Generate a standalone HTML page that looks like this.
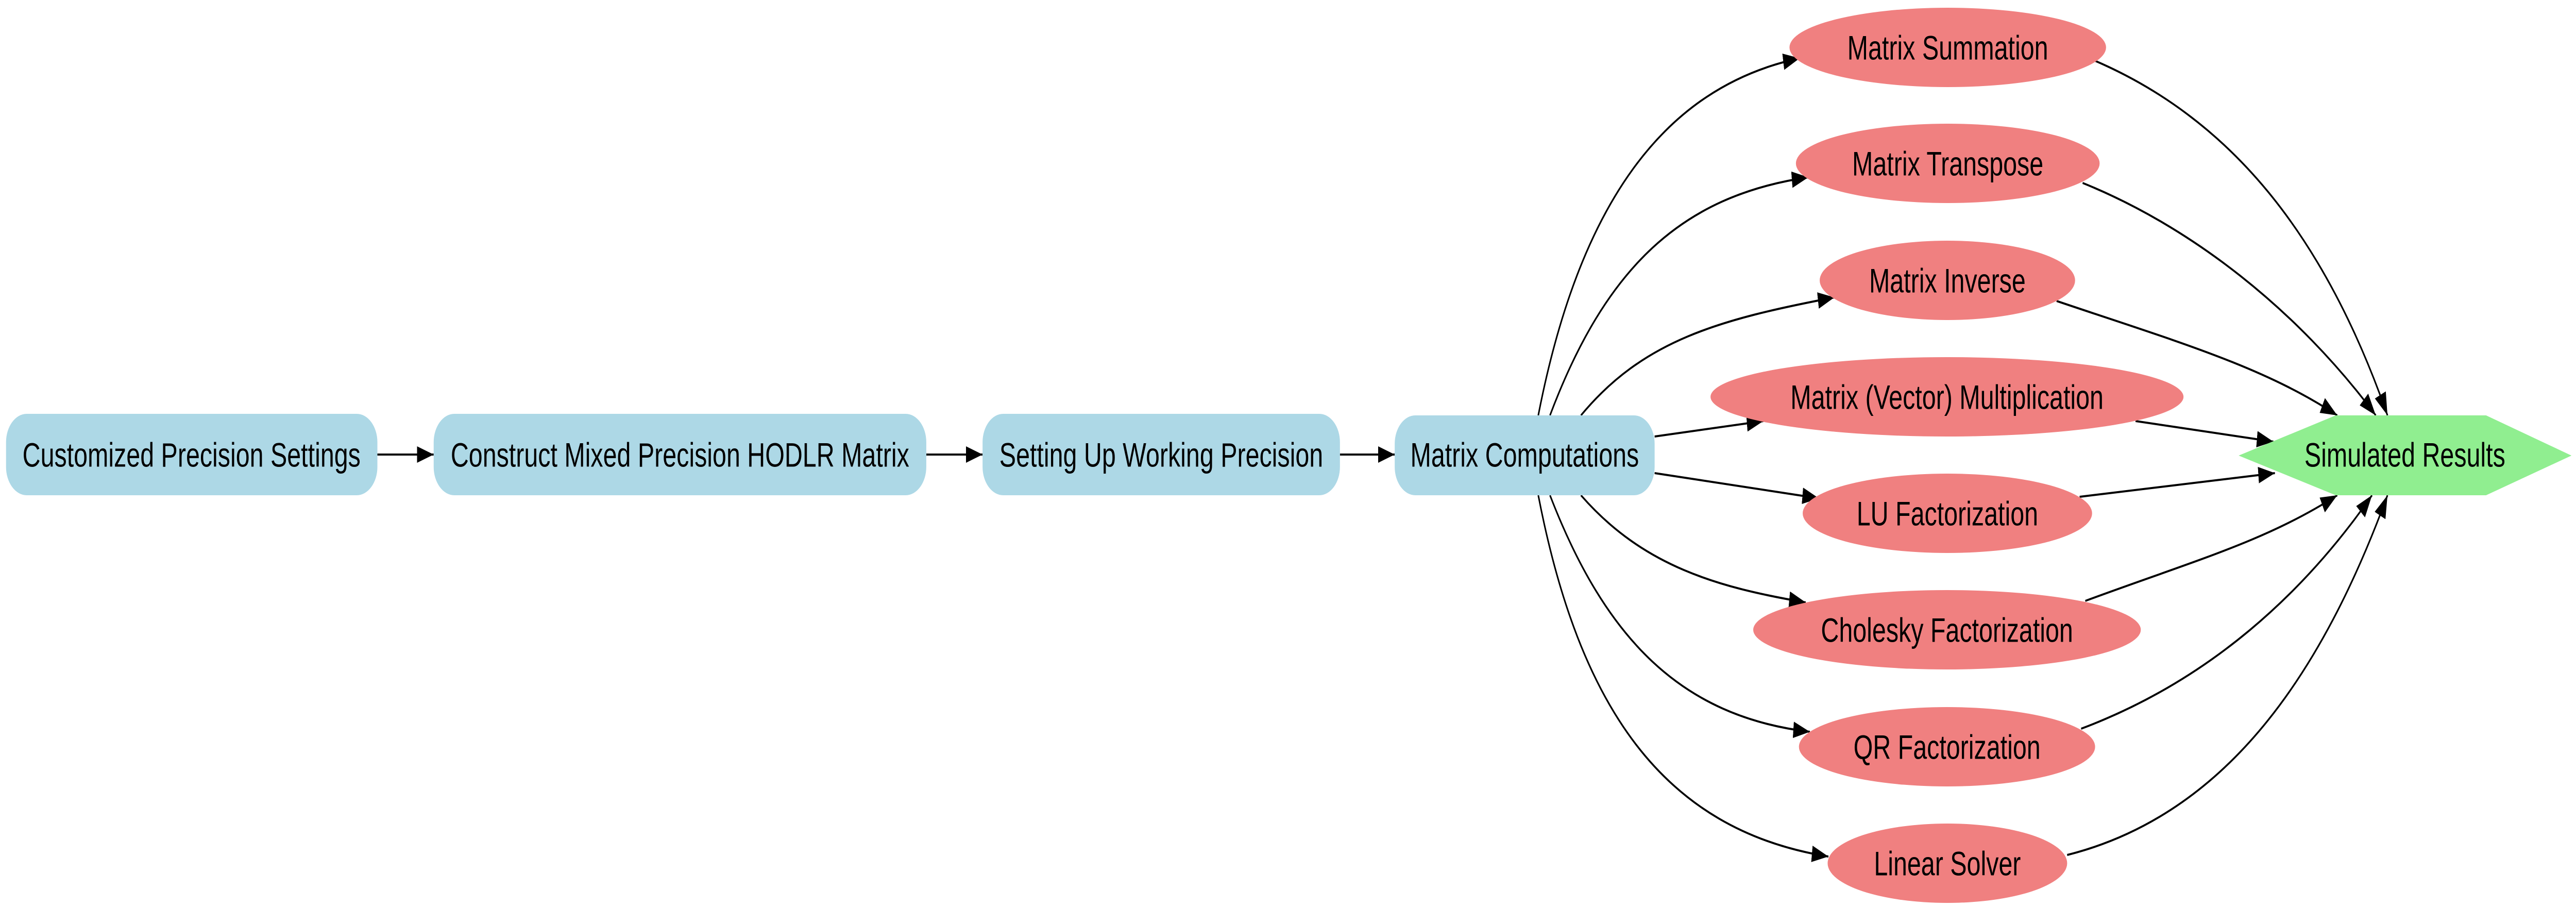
<!DOCTYPE html>
<html><head><meta charset="utf-8"><style>
html,body{margin:0;padding:0;background:#fff;width:100%;height:100%;overflow:hidden;}
svg{display:block;position:fixed;left:0;top:0;width:100vw;height:100vh;}
text{font-family:"Liberation Sans",Arial,sans-serif;font-size:66px;fill:#000;}
</style></head><body>
<svg viewBox="0 0 6819 1758" preserveAspectRatio="none" xmlns="http://www.w3.org/2000/svg">
<defs>
<marker id="a" markerUnits="userSpaceOnUse" markerWidth="46" markerHeight="32" refX="44" refY="16" orient="auto">
<path d="M0,0 L44,16 L0,32 z" fill="#000"/>
</marker>
</defs>
<g fill="none" stroke="#000" stroke-width="4" marker-end="url(#a)">
<path d="M999,882 L1148,882"/>
<path d="M2452,882 L2601,882"/>
<path d="M3547,882 L3692,882"/>
<path d="M4072,806 C4180,400 4400,170 4764,113"/>
<path d="M4103,806 C4250,520 4450,380 4787,344"/>
<path d="M4185,806 C4350,660 4550,620 4856,577"/>
<path d="M4380,847 L4668,817"/>
<path d="M4380,918 L4815,967"/>
<path d="M4185,961 C4350,1100 4550,1140 4780,1169"/>
<path d="M4103,961 C4250,1240 4450,1390 4791,1420"/>
<path d="M4072,961 C4180,1370 4400,1610 4840,1662"/>
<path d="M5546,118 C5900,230 6150,450 6320,806"/>
<path d="M5513,355 C5800,440 6080,600 6289,806"/>
<path d="M5444,584 C5750,660 5990,710 6187,806"/>
<path d="M5653,817 L6018,857"/>
<path d="M5505,964 L6022,918"/>
<path d="M5520,1166 C5800,1090 6000,1050 6187,961"/>
<path d="M5509,1414 C5850,1320 6100,1150 6279,961"/>
<path d="M5472,1659 C5900,1580 6150,1300 6320,961"/>
</g>
<g fill="#add8e6">
<rect x="16" y="803" width="983" height="158" rx="55"/>
<rect x="1148" y="803" width="1304" height="158" rx="55"/>
<rect x="2601" y="803" width="946" height="158" rx="55"/>
<rect x="3692" y="806" width="688" height="155" rx="55"/>
</g>
<polygon points="5926,884 6183,806 6581,806 6807,884 6581,961 6183,961" fill="#90ee90"/>
<g fill="#f08080">
<ellipse cx="5156" cy="92" rx="419" ry="77"/>
<ellipse cx="5156" cy="317" rx="402" ry="77"/>
<ellipse cx="5155" cy="544" rx="338" ry="77"/>
<ellipse cx="5154" cy="770" rx="626" ry="77"/>
<ellipse cx="5155" cy="996" rx="383" ry="77"/>
<ellipse cx="5154" cy="1222" rx="513" ry="77"/>
<ellipse cx="5154" cy="1449" rx="392" ry="77"/>
<ellipse cx="5155" cy="1675" rx="317" ry="77"/>
</g>
<g text-anchor="middle" dominant-baseline="central">
<text x="507" y="884">Customized Precision Settings</text>
<text x="1800" y="884">Construct Mixed Precision HODLR Matrix</text>
<text x="3074" y="884">Setting Up Working Precision</text>
<text x="4036" y="884">Matrix Computations</text>
<text x="6366" y="884" font-size="60">Simulated Results</text>
<text x="5156" y="94">Matrix Summation</text>
<text x="5156" y="319">Matrix Transpose</text>
<text x="5155" y="546">Matrix Inverse</text>
<text x="5154" y="772">Matrix (Vector) Multiplication</text>
<text x="5155" y="998">LU Factorization</text>
<text x="5154" y="1224">Cholesky Factorization</text>
<text x="5154" y="1451">QR Factorization</text>
<text x="5155" y="1677">Linear Solver</text>
</g>
</svg>
</body></html>
